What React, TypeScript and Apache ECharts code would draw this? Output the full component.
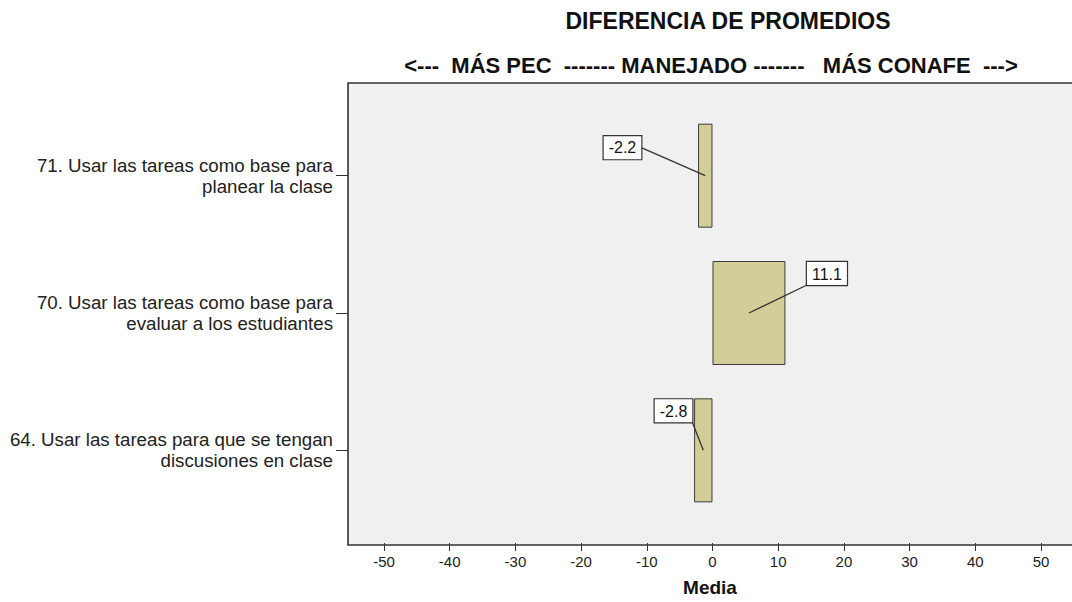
import React, { useEffect, useRef } from "react";
import * as echarts from "echarts";

const categories = [
  "71. Usar las tareas como base para\nplanear la clase",
  "70. Usar las tareas como base para\nevaluar a los estudiantes",
  "64. Usar las tareas para que se tengan\ndiscusiones en clase",
];
const values = [-2.2, 11.1, -2.8];
const xTicks = [-50, -40, -30, -20, -10, 0, 10, 20, 30, 40, 50];
const titleText = "DIFERENCIA DE PROMEDIOS";
const subtitleText = "<---  MÁS PEC  ------- MANEJADO -------   MÁS CONAFE  --->";
const axisName = "Media";

// label callout layout: offset of the box's attach point from the bar centre, and box alignment
const calloutLayout = [
  { dx: -64, dy: -28, align: "right", vAlign: "middle" },
  { dx: 58, dy: -28, align: "left", vAlign: "bottom" },
  { dx: -11, dy: -28, align: "right", vAlign: "bottom" },
];

const FONT = "'Liberation Sans', Arial, Helvetica, sans-serif";

export default function App() {
  const ref = useRef<HTMLDivElement>(null);
  useEffect(() => {
    if (!ref.current) return;
    const chart = echarts.init(ref.current, null, { renderer: "svg" });
    chart.setOption({
      animation: false,
      backgroundColor: "#ffffff",
      textStyle: { fontFamily: FONT },
      grid: { left: 348, top: 107, width: 724, height: 414, show: false },
      graphic: [
        {
          type: "rect",
          z: -10,
          shape: { x: 348, y: 83, width: 729, height: 462 },
          style: { fill: "#f0f0f0", stroke: "#333333", lineWidth: 1.6 },
          silent: true,
        },
        {
          type: "text",
          x: 728,
          y: 21,
          style: {
            text: titleText,
            font: `bold 23px ${FONT}`,
            fill: "#111",
            align: "center",
            verticalAlign: "middle",
          },
        },
        {
          type: "text",
          x: 711,
          y: 65,
          style: {
            text: subtitleText,
            font: `bold 22px ${FONT}`,
            fill: "#111",
            align: "center",
            verticalAlign: "middle",
          },
        },
      ],
      xAxis: {
        type: "value",
        min: -55.48,
        max: 54.72,
        position: "bottom",
        offset: 24,
        splitLine: { show: false },
        axisLine: { show: false, onZero: false },
        axisTick: {
          show: true,
          length: 8,
          customValues: xTicks,
          lineStyle: { color: "#333", width: 1 },
        },
        axisLabel: {
          customValues: xTicks,
          fontSize: 15,
          color: "#222",
          margin: 11,
          fontFamily: FONT,
        },
        name: axisName,
        nameLocation: "middle",
        nameGap: 35,
        nameTextStyle: { fontSize: 19, fontWeight: "bold", color: "#111", fontFamily: FONT },
      },
      yAxis: {
        type: "category",
        data: categories,
        inverse: true,
        axisLine: { show: false, onZero: false },
        axisTick: { show: true, alignWithLabel: true, length: 12, lineStyle: { color: "#333" } },
        axisLabel: {
          fontSize: 18.7,
          lineHeight: 21,
          color: "#222",
          margin: 15,
          padding: [5, 0, 0, 0],
          fontFamily: FONT,
        },
        splitLine: { show: false },
      },
      series: [
        {
          type: "bar",
          data: values,
          barWidth: 104,
          itemStyle: { color: "#d3ce98", borderColor: "#3c3c3c", borderWidth: 1 },
          z: 2,
        },
        {
          type: "custom",
          coordinateSystem: "cartesian2d",
          data: values.map((v, i) => [v, i]),
          encode: { x: 0, y: 1 },
          z: 5,
          renderItem: (params: any, api: any) => {
            const v = api.value(0);
            const idx = api.value(1);
            const c = api.coord([v / 2, idx]);
            const lay = calloutLayout[params.dataIndex];
            const px = c[0] + lay.dx;
            const py = c[1] + lay.dy;
            return {
              type: "group",
              children: [
                {
                  type: "line",
                  shape: { x1: c[0], y1: c[1], x2: px, y2: py },
                  style: { stroke: "#333", lineWidth: 1.3 },
                },
                {
                  type: "text",
                  x: px,
                  y: py,
                  style: {
                    text: v.toFixed(1),
                    font: `16px ${FONT}`,
                    fill: "#111",
                    align: lay.align,
                    verticalAlign: lay.vAlign,
                    backgroundColor: "#ffffff",
                    borderColor: "#333",
                    borderWidth: 1.2,
                    padding: [4, 5, 3, 5],
                  },
                },
              ],
            };
          },
        },
      ],
    });
    return () => chart.dispose();
  }, []);
  return (
    <div
      ref={ref}
      style={{ position: "fixed", left: 0, top: 0, width: 1072, height: 602 }}
    />
  );
}
